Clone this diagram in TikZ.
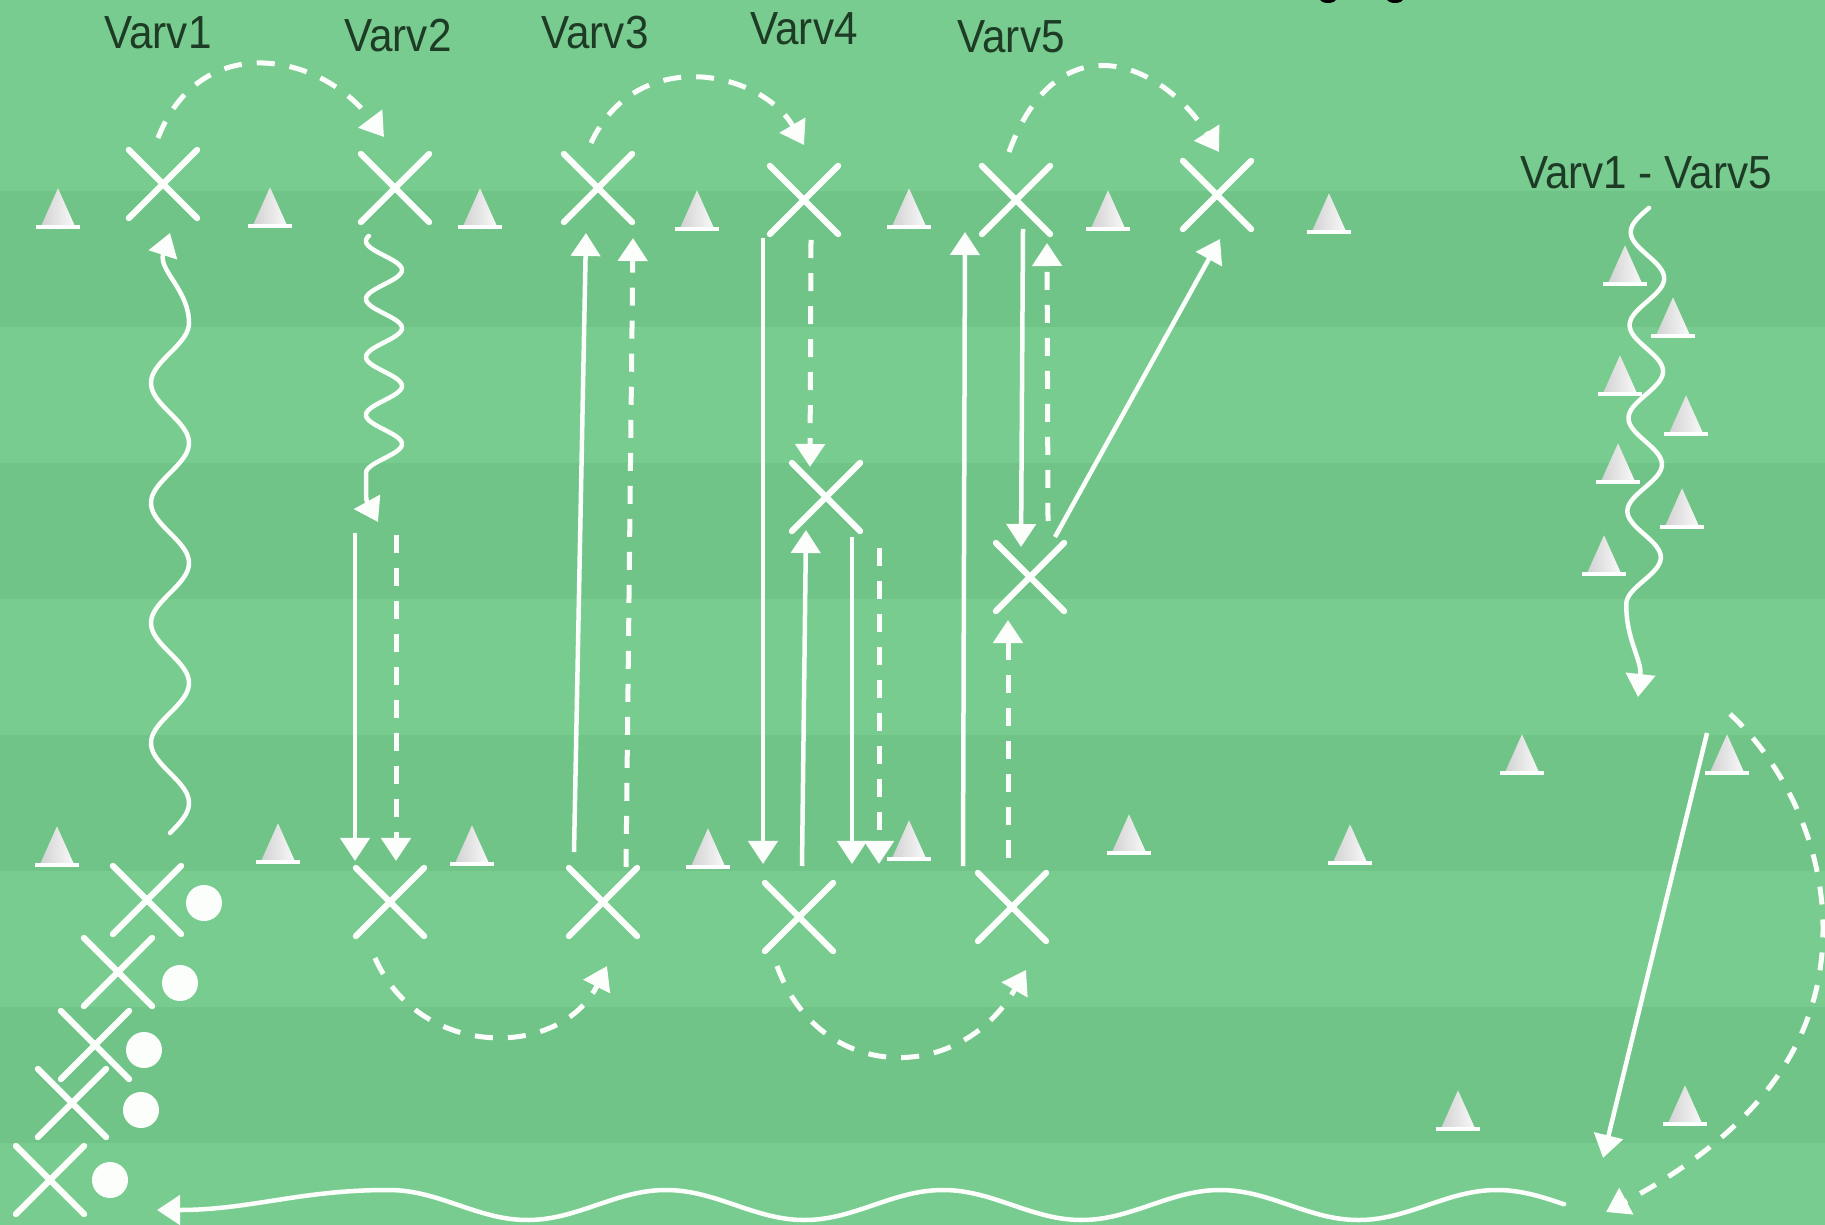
\documentclass[tikz,border=0pt]{standalone}
\usepackage{fontspec}
\setmainfont{Liberation Sans}
\usetikzlibrary{arrows.meta,shapes.misc,calc}

\definecolor{fieldA}{HTML}{78CC8F}
\definecolor{fieldB}{HTML}{71C488}
\definecolor{ink}{HTML}{1D3B25}
\definecolor{chalk}{HTML}{FCFEFC}

\tikzset{
  xmark/.style={cross out, draw=chalk, line width=0.62mm, line cap=round,
    minimum size=6.2mm, inner sep=0pt},
  cone/.style={minimum width=4.4mm, minimum height=4.1mm, inner sep=0pt, anchor=south,
    path picture={
      \shade[left color=black!20, middle color=white, right color=white]
        ([xshift=-1.7mm,yshift=0.3mm]path picture bounding box.south)
        -- (path picture bounding box.north)
        -- ([xshift=1.7mm,yshift=0.3mm]path picture bounding box.south) -- cycle;
      \fill[white] (path picture bounding box.south west)
        rectangle ([yshift=0.45mm]path picture bounding box.south east);
    }},
  ball/.style={circle, fill=chalk, minimum size=3.6mm, inner sep=0pt},
  lbl/.style={text=ink, font=\fontsize{12}{14}\selectfont, inner sep=0pt},
  headtip/.style={-{Triangle[width=2.9mm,length=2.3mm]}},
  run/.style={draw=chalk, line width=0.45mm, headtip},
  pass/.style={draw=chalk, line width=0.5mm, dash pattern=on 1.8mm off 1.5mm, headtip},
  dribble/.style={run, line cap=round, line join=round}
}

\begin{document}
\begin{tikzpicture}[x=0.01cm, y=-0.01cm]
\useasboundingbox (0,0) rectangle (1825,1225);
\clip (0,0) rectangle (1825,1225);
% field
\fill[fieldA] (0,0) rectangle (1825,1225);
\foreach \a/\b in {191/327,463/599,735/871,1007/1143}
  \fill[fieldB] (0,\a) rectangle (1825,\b);
% cut-off marks at top edge
\fill[black] (1328,-1) ellipse [x radius=0.8mm, y radius=0.4mm];
\fill[black] (1395,-1) ellipse [x radius=0.8mm, y radius=0.4mm];

% labels
\node[lbl] (t1) at (158,33) {\scalebox{1}[1.1]{Varv1}};
\node[lbl] (t2) at (398,36) {\scalebox{1}[1.1]{Varv2}};
\node[lbl] (t3) at (595,33) {\scalebox{1}[1.1]{Varv3}};
\node[lbl] (t4) at (804,29) {\scalebox{1}[1.1]{Varv4}};
\node[lbl] (t5) at (1011,37) {\scalebox{1}[1.1]{Varv5}};
\node[lbl] (t6) at (1646,173) {\scalebox{1}[1.1]{Varv1 - Varv5}};

% cones top row
\foreach \x/\y [count=\i] in {58/230,270/229,480/230,697/232,909/230,1108/232,1329/235}
  \node[cone] (ct\i) at (\x,\y) {};
% cones bottom row
\foreach \x/\y [count=\i] in {57/868,278/865,472/867,708/870,909/862,1129/856,1350/866}
  \node[cone] (cb\i) at (\x,\y) {};
% cones slalom
\foreach \x/\y [count=\i] in {1625/287,1673/339,1620/397,1686/437,1618/485,1682/530,1604/577}
  \node[cone] (cs\i) at (\x,\y) {};
% cones right square
\foreach \x/\y [count=\i] in {1522/776,1727/776,1458/1132,1685/1127}
  \node[cone] (cr\i) at (\x,\y) {};

% players
\node[xmark] (x1) at (163,184) {};
\node[xmark] (x2) at (395,188) {};
\node[xmark] (x3) at (598,188) {};
\node[xmark] (x4) at (804,200) {};
\node[xmark] (x5) at (1016,200) {};
\node[xmark] (x6) at (1217,195) {};
\node[xmark] (y2) at (390,902) {};
\node[xmark] (y3) at (603,902) {};
\node[xmark] (y4) at (799,917) {};
\node[xmark] (y5) at (1012,907) {};
\node[xmark] (m4) at (826,497) {};
\node[xmark] (m5) at (1030,577) {};
\node[xmark] (q1) at (147,900) {};
\node[xmark] (q2) at (118,972) {};
\node[xmark] (q3) at (95,1045) {};
\node[xmark] (q4) at (72,1103) {};
\node[xmark] (q5) at (50,1180) {};
% balls
\node[ball] (b1) at (204,903) {};
\node[ball] (b2) at (180,983) {};
\node[ball] (b3) at (144,1050) {};
\node[ball] (b4) at (141,1110) {};
\node[ball] (b5) at (110,1180) {};

% connector end points
\coordinate (w1a) at (170,833);  \coordinate (w1b) at (170,233);
\coordinate (w2a) at (369,236);  \coordinate (w2b) at (378,522);
\coordinate (w3a) at (1649,208); \coordinate (w3b) at (1638,697);
\coordinate (w4a) at (1564,1204);\coordinate (w4b) at (157,1210);

\coordinate (v2sa) at (355,533); \coordinate (v2sb) at (355,861);
\coordinate (v2da) at (396,535); \coordinate (v2db) at (396,861);
\coordinate (v3sa) at (574,852); \coordinate (v3sb) at (586,233);
\coordinate (v3da) at (626,867); \coordinate (v3db) at (633,238);
\coordinate (v4aa) at (763,238); \coordinate (v4ab) at (763,864);
\coordinate (v4ba) at (811,240); \coordinate (v4bb) at (810,467);
\coordinate (v4ca) at (802,866); \coordinate (v4cb) at (806,530);
\coordinate (v4da) at (852,537); \coordinate (v4db) at (852,864);
\coordinate (v4ea) at (879,548); \coordinate (v4eb) at (879,864);
\coordinate (v5aa) at (963,866); \coordinate (v5ab) at (965,232);
\coordinate (v5ba) at (1023,229);\coordinate (v5bb) at (1021,547);
\coordinate (v5ca) at (1048,521);\coordinate (v5cb) at (1047,243);
\coordinate (v5da) at (1008,858);\coordinate (v5db) at (1008,620);
\coordinate (v5ea) at (1055,537);\coordinate (v5eb) at (1220,239);
\coordinate (rsa) at (1707,733); \coordinate (rsb) at (1603,1158);

\coordinate (a1a) at (158,138);  \coordinate (a1b) at (384,137);
\coordinate (a2a) at (591,143);  \coordinate (a2b) at (804,145);
\coordinate (a3a) at (1009,152); \coordinate (a3b) at (1219,152);
\coordinate (a4a) at (375,958);  \coordinate (a4b) at (607,966);
\coordinate (a5a) at (777,966);  \coordinate (a5b) at (1026,970);
\coordinate (a6a) at (1730,714); \coordinate (a6m) at (1823,929); \coordinate (a6b) at (1606,1212);

% dribbles (wavy)
\draw[dribble] (w1a) -- plot[domain=833:323, samples=160, variable=\t]
   ({170+19*sin(3*(833-\t))}, \t) .. controls (189,290) and (158,270) .. (w1b);
\draw[dribble] (w2a) -- plot[domain=236:473, samples=140, variable=\t]
   ({384+18*cos(6.207*(\t-270))}, \t) .. controls (366,500) .. (w2b);
\draw[dribble] (w3a) -- plot[domain=208:604, samples=160, variable=\t]
   ({1648-0.012*(\t-208)-17*cos(3.871*(\t-232))}, \t) .. controls (1626,640) and (1642,660) .. (w3b);
\draw[dribble] (w4a) -- plot[domain=1564:387, samples=300, variable=\t]
   (\t, {1205-15*cos(1.2996*(\t-1497))}) .. controls (300,1190) and (250,1210) .. (w4b);

% runs (solid)
\draw[run] (v2sa) -- (v2sb);
\draw[run] (v3sa) -- (v3sb);
\draw[run] (v4aa) -- (v4ab);
\draw[run] (v4ca) -- (v4cb);
\draw[run] (v4da) -- (v4db);
\draw[run] (v5aa) -- (v5ab);
\draw[run] (v5ba) -- (v5bb);
\draw[run] (v5ea) -- (v5eb);
\draw[run] (rsa) -- (rsb);

% passes (dashed)
\draw[pass] (v2da) -- (v2db);
\draw[pass] (v3da) -- (v3db);
\draw[pass] (v4ba) -- (v4bb);
\draw[pass] (v4ea) -- (v4eb);
\draw[pass] (v5ca) -- (v5cb);
\draw[pass] (v5da) -- (v5db);
\draw[pass] (a1a) .. controls (200,30) and (320,52) .. (a1b);
\draw[pass] (a2a) .. controls (636,45) and (760,70) .. (a2b);
\draw[pass] (a3a) .. controls (1057,20) and (1160,60) .. (a3b);
\draw[pass] (a4a) .. controls (420,1060) and (560,1059) .. (a4b);
\draw[pass] (a5a) .. controls (820,1084) and (960,1084) .. (a5b);
\draw[pass] (a6a) .. controls (1780,760) and (1823,840) .. (a6m)
             .. controls (1823,1040) and (1760,1130) .. (a6b);
\end{tikzpicture}
\end{document}
